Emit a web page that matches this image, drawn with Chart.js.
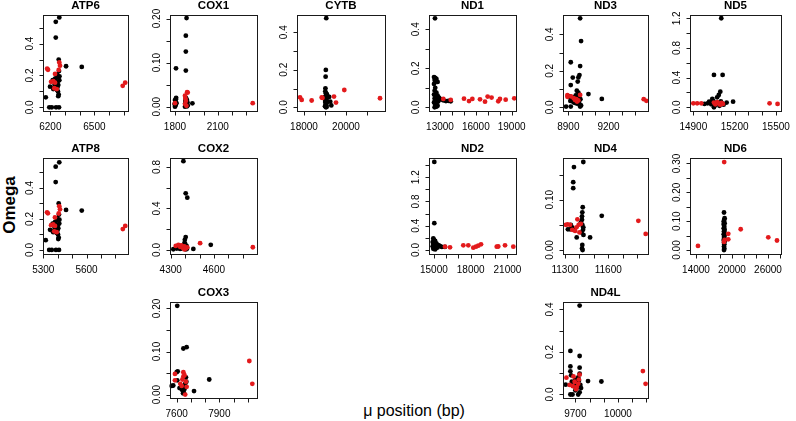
<!DOCTYPE html>
<html><head><meta charset="utf-8">
<script src="https://cdn.jsdelivr.net/npm/chart.js@4/dist/chart.umd.min.js"></script>
<style>
html,body{margin:0;padding:0;background:#fff;}
#wrap{position:relative;width:796px;height:421px;overflow:hidden;background:#fff;}
#wrap canvas{position:absolute;}
.lab{position:absolute;font-family:"Liberation Sans",Arial,Helvetica,sans-serif;color:#000;white-space:nowrap;}
</style></head><body>
<div id="wrap">
  <div class="lab" id="ylab" style="left:10px;top:205px;font-size:17px;font-weight:bold;transform:translate(-50%,-50%) rotate(-90deg);">Omega</div>
  <div class="lab" id="xlab" style="left:414px;top:411px;font-size:16px;transform:translate(-50%,-50%);">μ position (bp)</div>
</div>
<script>
// ---------------- DATA ----------------
const ATP6_black = [[6261,0.565],[6237,0.537],[6237,0.438],[6257,0.300],[6307,0.258],[6414,0.254],[6259,0.228],[6244,0.190],[6216,0.170],[6261,0.170],[6198,0.130],[6225,0.125],[6239,0.150],[6254,0.140],[6244,0.110],[6257,0.080],[6254,0.070],[6169,0.063],[6193,0.0],[6210,0.0],[6239,0.0],[6259,0.0],[6232,0.180],[6248,0.125],[6220,0.115],[6250,0.160],[6262,0.195],[6230,0.145],[6252,0.100],[6247,0.205]];
const ATP6_red = [[6178,0.243],[6184,0.236],[6261,0.282],[6266,0.262],[6257,0.235],[6232,0.210],[6220,0.165],[6205,0.160],[6232,0.155],[6227,0.120],[6244,0.115],[6693,0.135],[6710,0.155]];
const ATP6_xRange = [6150, 6729];
const ATP6_yRange = [-0.023, 0.58];
const ATP6_xTicks = [6200,6300,6400,6500,6600,6700];
const ATP6_xLabels = ['6200','6500'];
const ATP6_yTicks = [0,0.1,0.2,0.3,0.4,0.5];
const ATP6_yLabels = ['0.0','0.2','0.4'];

const COX1_black = [[1881,0.201],[1876,0.161],[1876,0.125],[1876,0.082],[1807,0.087],[1800,0.0],[1803,0.005],[1806,0.010],[1800,0.015],[1808,0.020],[1804,0.003],[1810,0.008],[1797,0.006],[1806,0.017],[1870,0.0],[1875,0.002],[1880,0.004],[1885,0.001],[1872,0.008],[1878,0.012],[1883,0.016],[1887,0.010],[1876,0.020],[1881,0.006],[1889,0.003],[1873,0.014],[1922,0.0075]];
const COX1_red = [[1885,0.033],[1889,0.032],[1870,0.025],[1873,0.019],[1876,0.013],[1871,0.006],[1880,0.002],[1800,0.008],[2345,0.008]];
const COX1_xRange = [1765, 2375];
const COX1_yRange = [-0.0098, 0.208];
const COX1_xTicks = [1800,1900,2000,2100,2200,2300];
const COX1_xLabels = ['1800','2100'];
const COX1_yTicks = [0,0.05,0.10,0.15,0.20];
const COX1_yLabels = ['0.00','0.10','0.20'];

const CYTB_black = [[19060,0.475],[19040,0.199],[19030,0.163],[19020,0.101],[19040,0.075],[19060,0.065],[19000,0.055],[19080,0.045],[19020,0.040],[19050,0.035],[19010,0.028],[19070,0.022],[19030,0.015],[19060,0.010],[19000,0.005],[19045,0.0],[19090,0.070],[19015,0.085],[19100,0.030],[19075,0.002],[19250,0.030],[19300,0.010],[19200,0.055]];
const CYTB_red = [[17810,0.053],[17890,0.039],[18365,0.036],[18843,0.052],[18880,0.050],[19429,0.057],[19524,0.025],[19919,0.092],[21619,0.048]];
const CYTB_xRange = [17667, 21857];
const CYTB_yRange = [-0.02, 0.492];
const CYTB_xTicks = [18000,19000,20000,21000];
const CYTB_xLabels = ['18000','20000'];
const CYTB_yTicks = [0,0.1,0.2,0.3,0.4];
const CYTB_yLabels = ['0.0','0.2','0.4'];

const ND1_black = [[12581,0.456],[12500,0.155],[12600,0.150],[12700,0.145],[12550,0.140],[12650,0.135],[12800,0.130],[12500,0.120],[12600,0.100],[12550,0.085],[12700,0.075],[12500,0.065],[12800,0.060],[12650,0.055],[12900,0.050],[12550,0.045],[12750,0.040],[12600,0.035],[12850,0.030],[12500,0.025],[12700,0.020],[12600,0.012],[12800,0.008],[12550,0.0],[12700,0.003],[12950,0.045],[13100,0.040],[13300,0.035],[13500,0.032],[13700,0.033],[13900,0.031]];
const ND1_red = [[13277,0.043],[13900,0.038],[15010,0.044],[15430,0.032],[15710,0.043],[16350,0.041],[16770,0.029],[16990,0.055],[17320,0.050],[17880,0.031],[18020,0.043],[18500,0.039],[19220,0.046]];
const ND1_xRange = [12079, 19365];
const ND1_yRange = [-0.019, 0.473];
const ND1_xTicks = [13000,14000,15000,16000,17000,18000,19000];
const ND1_xLabels = ['13000','16000','19000'];
const ND1_yTicks = [0,0.1,0.2,0.3,0.4];
const ND1_yLabels = ['0.0','0.2','0.4'];

const ND3_black = [[8988,0.488],[8995,0.363],[8918,0.247],[8988,0.226],[8933,0.163],[8983,0.177],[8975,0.164],[8970,0.141],[8918,0.122],[8963,0.091],[9050,0.073],[9150,0.046],[8883,0.004],[8918,0.004],[8988,0.004],[8910,0.060],[8920,0.050],[8930,0.045],[8940,0.055],[8950,0.040],[8960,0.035],[8970,0.050],[8980,0.030],[8990,0.045],[8945,0.025],[8965,0.020],[8985,0.015],[8955,0.065],[8975,0.080],[8915,0.035],[8935,0.030],[8995,0.010]];
const ND3_red = [[8893,0.067],[8893,0.058],[8988,0.068],[8950,0.040],[8960,0.045],[8965,0.032],[8975,0.038],[8940,0.050],[8920,0.060],[9463,0.045],[9483,0.036]];
const ND3_xRange = [8860, 9495];
const ND3_yRange = [-0.02, 0.506];
const ND3_xTicks = [8900,9000,9100,9200,9300,9400];
const ND3_xLabels = ['8900','9200'];
const ND3_yTicks = [0,0.1,0.2,0.3,0.4];
const ND3_yLabels = ['0.0','0.2','0.4'];

const ND5_black = [[15103,1.2],[15050,0.436],[15113,0.436],[15096,0.211],[15085,0.166],[15073,0.135],[15038,0.112],[15015,0.076],[15004,0.054],[14981,0.045],[15189,0.076],[15142,0.063],[15050,0.0],[15060,0.030],[15070,0.060],[15080,0.045],[15090,0.020],[15100,0.080],[15110,0.050],[15120,0.035],[15030,0.040],[15045,0.085]];
const ND5_red = [[14900,0.054],[14928,0.054],[14958,0.054],[15050,0.063],[15060,0.040],[15075,0.070],[15085,0.050],[15095,0.035],[15105,0.060],[15115,0.045],[15454,0.054],[15512,0.045]];
const ND5_xRange = [14876, 15537];
const ND5_yRange = [-0.05, 1.244];
const ND5_xTicks = [14900,15000,15100,15200,15300,15400,15500];
const ND5_xLabels = ['14900','15200','15500'];
const ND5_yTicks = [0,0.2,0.4,0.6,0.8,1.0,1.2];
const ND5_yLabels = ['0.0','0.4','0.8','1.2'];

const ATP8_black = [[5411,0.565],[5386,0.537],[5386,0.438],[5407,0.300],[5458,0.258],[5567,0.254],[5409,0.228],[5393,0.190],[5365,0.170],[5411,0.170],[5347,0.130],[5374,0.125],[5388,0.150],[5404,0.140],[5393,0.110],[5407,0.080],[5404,0.070],[5317,0.063],[5341,0.0],[5359,0.0],[5388,0.0],[5409,0.0],[5381,0.180],[5398,0.125],[5369,0.115],[5400,0.160],[5412,0.195],[5379,0.145],[5402,0.100],[5397,0.205]];
const ATP8_red = [[5326,0.243],[5332,0.236],[5411,0.282],[5416,0.262],[5407,0.235],[5381,0.210],[5369,0.165],[5354,0.160],[5381,0.155],[5376,0.120],[5393,0.115],[5852,0.135],[5869,0.155]];
const ATP8_xRange = [5298, 5888];
const ATP8_yRange = [-0.026, 0.593];
const ATP8_xTicks = [5300,5400,5500,5600,5700,5800];
const ATP8_xLabels = ['5300','5600'];
const ATP8_yTicks = [0,0.1,0.2,0.3,0.4,0.5];
const ATP8_yLabels = ['0.0','0.2','0.4'];

const COX2_black = [[4388,0.855],[4404,0.546],[4415,0.504],[4404,0.124],[4398,0.098],[4395,0.065],[4578,0.049],[4457,0.010],[4318,0.007],[4342,0.013],[4377,0.016],[4398,0.030],[4405,0.005],[4410,0.040],[4390,0.020],[4365,0.010],[4400,0.060],[4413,0.012]];
const COX2_red = [[4335,0.039],[4353,0.049],[4377,0.039],[4365,0.030],[4385,0.020],[4395,0.035],[4405,0.015],[4372,0.045],[4415,0.025],[4395,0.005],[4504,0.065],[4870,0.026]];
const COX2_xRange = [4295, 4899];
const COX2_yRange = [-0.039, 0.886];
const COX2_xTicks = [4300,4400,4500,4600,4700,4800];
const COX2_xLabels = ['4300','4600'];
const COX2_yTicks = [0,0.2,0.4,0.6,0.8];
const COX2_yLabels = ['0.0','0.4','0.8'];

const ND2_black = [[15033,1.453],[15033,0.442],[14950,0.190],[15000,0.170],[15100,0.150],[14900,0.130],[15050,0.120],[15200,0.110],[14950,0.100],[15100,0.090],[15300,0.085],[15000,0.080],[15150,0.070],[15400,0.075],[14900,0.060],[15050,0.050],[15250,0.060],[15500,0.065],[15000,0.040],[15150,0.030],[14950,0.020],[15100,0.010],[15650,0.050],[15300,0.040],[15900,0.050]];
const ND2_red = [[15906,0.055],[16314,0.044],[17400,0.077],[17808,0.077],[18216,0.039],[18437,0.055],[18624,0.072],[18845,0.094],[20127,0.055],[20250,0.058],[20804,0.077],[21482,0.055]];
const ND2_xRange = [14600, 21700];
const ND2_yRange = [-0.066, 1.517];
const ND2_xTicks = [15000,16000,17000,18000,19000,20000,21000];
const ND2_xLabels = ['15000','18000','21000'];
const ND2_yTicks = [0,0.2,0.4,0.6,0.8,1.0,1.2,1.4];
const ND2_yLabels = ['0.0','0.4','0.8','1.2'];

const ND4_black = [[11427,0.175],[11362,0.165],[11357,0.135],[11357,0.123],[11423,0.085],[11420,0.075],[11418,0.067],[11555,0.068],[11418,0.060],[11335,0.041],[11350,0.045],[11362,0.040],[11320,0.041],[11381,0.025],[11474,0.025],[11420,0.050],[11425,0.040],[11415,0.035],[11428,0.030],[11420,0.010],[11422,0.0],[11418,0.003],[11410,0.055],[11427,0.045],[11340,0.050]];
const ND4_red = [[11305,0.050],[11318,0.051],[11335,0.050],[11386,0.061],[11395,0.050],[11410,0.052],[11350,0.040],[11370,0.038],[11400,0.035],[11380,0.045],[11809,0.058],[11860,0.032]];
const ND4_xRange = [11286, 11876];
const ND4_yRange = [-0.008, 0.183];
const ND4_xTicks = [11300,11400,11500,11600,11700,11800];
const ND4_xLabels = ['11300','11600'];
const ND4_yTicks = [0,0.05,0.10,0.15];
const ND4_yLabels = ['0.00','0.10'];

const ND6_black = [[18670,0.130],[18720,0.105],[18620,0.099],[18770,0.093],[18670,0.087],[18720,0.080],[18620,0.075],[18770,0.070],[18670,0.065],[18720,0.060],[18620,0.055],[18770,0.050],[18670,0.045],[18720,0.040],[18620,0.035],[18770,0.030],[18670,0.025],[18720,0.020],[18670,0.012],[18720,0.005],[18670,0.0],[18770,0.110],[18620,0.090]];
const ND6_red = [[18700,0.305],[18770,0.035],[18670,0.028],[19380,0.056],[19380,0.037],[21450,0.072],[26050,0.044],[27500,0.033],[14330,0.014]];
const ND6_xRange = [13000, 28170];
const ND6_yRange = [-0.0139, 0.319];
const ND6_xTicks = [14000,16000,18000,20000,22000,24000,26000,28000];
const ND6_xLabels = ['14000','20000','26000'];
const ND6_yTicks = [0,0.05,0.10,0.15,0.20,0.25,0.30];
const ND6_yLabels = ['0.00','0.10','0.20','0.30'];

const COX3_black = [[7604,0.206],[7647,0.107],[7670,0.110],[7607,0.054],[7600,0.052],[7576,0.021],[7565,0.020],[7604,0.033],[7630,0.017],[7650,0.020],[7665,0.040],[7660,0.025],[7655,0.013],[7650,0.005],[7722,0.008],[7829,0.035],[7620,0.015],[7640,0.010],[7668,0.030],[7645,0.003]];
const COX3_red = [[7588,0.048],[7588,0.033],[7647,0.052],[7647,0.042],[7665,0.030],[7625,0.025],[7660,0.0],[7640,0.035],[7655,0.045],[7670,0.018],[7635,0.020],[8111,0.078],[8132,0.025]];
const COX3_xRange = [7553, 8165];
const COX3_yRange = [-0.008, 0.215];
const COX3_xTicks = [7600,7700,7800,7900,8000,8100];
const COX3_xLabels = ['7600','7900'];
const COX3_yTicks = [0,0.05,0.10,0.15,0.20];
const COX3_yLabels = ['0.00','0.10','0.20'];

const ND4L_black = [[9730,0.418],[9665,0.205],[9730,0.181],[9665,0.132],[9730,0.126],[9665,0.109],[9730,0.098],[9632,0.046],[9789,0.063],[9883,0.061],[9665,0.0],[9680,0.0],[9720,0.0],[9730,0.010],[9670,0.090],[9700,0.070],[9715,0.050],[9725,0.065],[9690,0.040],[9710,0.030],[9735,0.045],[9700,0.020],[9675,0.060],[9720,0.080],[9740,0.030]];
const ND4L_red = [[9637,0.079],[9687,0.085],[9682,0.039],[9730,0.093],[9720,0.050],[9710,0.035],[9705,0.025],[9660,0.045],[9695,0.060],[9725,0.070],[10175,0.110],[10194,0.050]];
const ND4L_xRange = [9613, 10211];
const ND4L_yRange = [-0.0165, 0.435];
const ND4L_xTicks = [9700,9800,9900,10000,10100,10200];
const ND4L_xLabels = ['9700','10000'];
const ND4L_yTicks = [0,0.1,0.2,0.3,0.4];
const ND4L_yLabels = ['0.0','0.2','0.4'];

// ---------------- LAYOUT (box pixels: left, right, top, bottom) ----------------
const LAYOUT = {
  ATP6:[43,128,15,111], COX1:[170,257,15,111], CYTB:[297,385,15,111], ND1:[429,516,15,111], ND3:[563,648,15,111], ND5:[690,781,15,111],
  ATP8:[43,128,158,254], COX2:[170,257,158,254], ND2:[429,516,158,254], ND4:[563,648,158,254], ND6:[690,781,158,254],
  COX3:[170,257,302,398], ND4L:[563,648,302,398]
};

const PANELS = {
  ATP6:{black:ATP6_black,red:ATP6_red,xr:ATP6_xRange,yr:ATP6_yRange,xt:ATP6_xTicks,xl:ATP6_xLabels,yt:ATP6_yTicks,yl:ATP6_yLabels},
  COX1:{black:COX1_black,red:COX1_red,xr:COX1_xRange,yr:COX1_yRange,xt:COX1_xTicks,xl:COX1_xLabels,yt:COX1_yTicks,yl:COX1_yLabels},
  CYTB:{black:CYTB_black,red:CYTB_red,xr:CYTB_xRange,yr:CYTB_yRange,xt:CYTB_xTicks,xl:CYTB_xLabels,yt:CYTB_yTicks,yl:CYTB_yLabels},
  ND1:{black:ND1_black,red:ND1_red,xr:ND1_xRange,yr:ND1_yRange,xt:ND1_xTicks,xl:ND1_xLabels,yt:ND1_yTicks,yl:ND1_yLabels},
  ND3:{black:ND3_black,red:ND3_red,xr:ND3_xRange,yr:ND3_yRange,xt:ND3_xTicks,xl:ND3_xLabels,yt:ND3_yTicks,yl:ND3_yLabels},
  ND5:{black:ND5_black,red:ND5_red,xr:ND5_xRange,yr:ND5_yRange,xt:ND5_xTicks,xl:ND5_xLabels,yt:ND5_yTicks,yl:ND5_yLabels},
  ATP8:{black:ATP8_black,red:ATP8_red,xr:ATP8_xRange,yr:ATP8_yRange,xt:ATP8_xTicks,xl:ATP8_xLabels,yt:ATP8_yTicks,yl:ATP8_yLabels},
  COX2:{black:COX2_black,red:COX2_red,xr:COX2_xRange,yr:COX2_yRange,xt:COX2_xTicks,xl:COX2_xLabels,yt:COX2_yTicks,yl:COX2_yLabels},
  ND2:{black:ND2_black,red:ND2_red,xr:ND2_xRange,yr:ND2_yRange,xt:ND2_xTicks,xl:ND2_xLabels,yt:ND2_yTicks,yl:ND2_yLabels},
  ND4:{black:ND4_black,red:ND4_red,xr:ND4_xRange,yr:ND4_yRange,xt:ND4_xTicks,xl:ND4_xLabels,yt:ND4_yTicks,yl:ND4_yLabels},
  ND6:{black:ND6_black,red:ND6_red,xr:ND6_xRange,yr:ND6_yRange,xt:ND6_xTicks,xl:ND6_xLabels,yt:ND6_yTicks,yl:ND6_yLabels},
  COX3:{black:COX3_black,red:COX3_red,xr:COX3_xRange,yr:COX3_yRange,xt:COX3_xTicks,xl:COX3_xLabels,yt:COX3_yTicks,yl:COX3_yLabels},
  ND4L:{black:ND4L_black,red:ND4L_red,xr:ND4L_xRange,yr:ND4L_yRange,xt:ND4L_xTicks,xl:ND4L_xLabels,yt:ND4L_yTicks,yl:ND4L_yLabels}
};

// ---------------- STYLE ----------------
const FONT = '"Liberation Sans", Arial, Helvetica, sans-serif';
const RED = '#E31A1C';
const BLACK = '#000000';
const PAD = {left:34, top:20, right:18, bottom:26};
const TICK = 4;

const rAxes = {
  id: 'rAxes',
  afterDraw(chart, args, o) {
    const ctx = chart.ctx, a = chart.chartArea;
    const xs = chart.scales.x, ys = chart.scales.y;
    ctx.save();
    ctx.strokeStyle = '#1a1a1a';
    ctx.lineWidth = 1;
    ctx.strokeRect(Math.round(a.left)+0.5, Math.round(a.top)+0.5, Math.round(a.right-a.left), Math.round(a.bottom-a.top));
    ctx.beginPath();
    o.xt.forEach(v => { if (v < xs.min || v > xs.max) return; const p = Math.round(xs.getPixelForValue(v))+0.5; ctx.moveTo(p, a.bottom+0.5); ctx.lineTo(p, a.bottom+0.5+TICK); });
    o.yt.forEach(v => { if (v < ys.min || v > ys.max) return; const p = Math.round(ys.getPixelForValue(v))+0.5; ctx.moveTo(a.left+0.5, p); ctx.lineTo(a.left+0.5-TICK, p); });
    ctx.stroke();
    ctx.fillStyle = '#000';
    ctx.font = '10px ' + FONT;
    ctx.textAlign = 'center';
    ctx.textBaseline = 'middle';
    o.xl.forEach(s => { ctx.fillText(s, xs.getPixelForValue(parseFloat(s)), a.bottom + 16); });
    o.yl.forEach(s => {
      ctx.save();
      ctx.translate(a.left - 13, ys.getPixelForValue(parseFloat(s)));
      ctx.rotate(-Math.PI/2);
      ctx.fillText(s, 0, 0);
      ctx.restore();
    });
    ctx.font = 'bold 11.5px ' + FONT;
    ctx.fillText(o.title, (a.left + a.right)/2, a.top - 9.5);
    ctx.restore();
  }
};

const wrap = document.getElementById('wrap');
Object.keys(PANELS).forEach(name => {
  const p = PANELS[name], [L, R, T, B] = LAYOUT[name];
  const cv = document.createElement('canvas');
  const w = (R - L) + PAD.left + PAD.right, h = (B - T) + PAD.top + PAD.bottom;
  cv.width = w; cv.height = h;
  cv.style.width = w + 'px'; cv.style.height = h + 'px';
  cv.style.left = (L - PAD.left) + 'px'; cv.style.top = (T - PAD.top) + 'px';
  wrap.appendChild(cv);
  new Chart(cv, {
    type: 'scatter',
    data: { datasets: [
      { label: name + ' black', data: p.black.map(d => ({x:d[0], y:d[1]})), backgroundColor: BLACK, borderWidth: 0, pointRadius: 2.4, order: 2, clip: false },
      { label: name + ' red', data: p.red.map(d => ({x:d[0], y:d[1]})), backgroundColor: RED, borderWidth: 0, pointRadius: 2.4, order: 1, clip: false }
    ]},
    options: {
      responsive: false, animation: false, devicePixelRatio: 1, events: [],
      layout: { padding: PAD },
      plugins: { legend: {display:false}, tooltip: {enabled:false},
        rAxes: { title: name, xt: p.xt, xl: p.xl, yt: p.yt, yl: p.yl } },
      scales: {
        x: { type: 'linear', display: false, min: p.xr[0], max: p.xr[1] },
        y: { type: 'linear', display: false, min: p.yr[0], max: p.yr[1] }
      }
    },
    plugins: [rAxes]
  });
});
</script>
</body></html>
